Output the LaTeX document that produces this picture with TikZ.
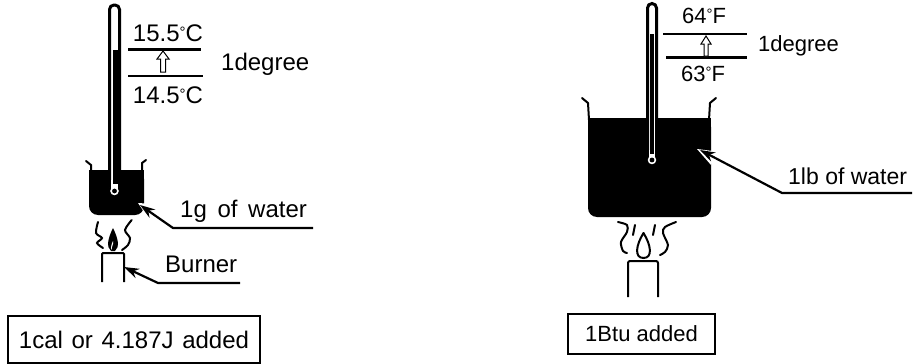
\documentclass[tikz,border=0pt]{standalone}
\usepackage{fontspec}
\setmainfont{Liberation Sans}
\usetikzlibrary{arrows.meta,positioning}
\newcommand{\dg}{\raisebox{4pt}{\fontsize{15}{15}\selectfont °}}

\begin{document}
\begin{tikzpicture}[x=1pt,y=-1pt,>={Stealth[length=15pt,width=10pt]},font=\fontsize{24}{26}\selectfont,
  thermo/.style={draw,line width=3pt,fill=white,rounded corners=4.5pt},
  glass/.style={line width=2pt,line cap=round},
  water/.style={fill=black,rounded corners=9pt},
  level/.style={line width=2.2pt},
  hollow/.style={draw,line width=1pt,fill=white},
  lead/.style={line width=2.2pt},
  smoke/.style={line width=2pt,line cap=round},
  lbl/.style={inner sep=0pt,anchor=center},
  smalltxt/.style={font=\fontsize{22}{24}\selectfont},
  notebox/.style={draw,line width=2pt,inner sep=0pt,anchor=north west}]
\useasboundingbox (0,0) rectangle (913,364);
% left: one gram
\draw[glass] (86,161) -- (91,165) -- (91,172);
\draw[glass] (146,160) -- (142,163) -- (142,172);
\fill[water] (89,170) -- (89,215) -- (144,215) -- (144,170) -- cycle;
\fill (89,170) rectangle (144,180);
\draw[thermo] (109.5,187) -- (109.5,5) -- (119.5,5) -- (119.5,187);
\draw[line width=2pt,fill=white] (114.5,191) circle (5.5);
\fill[white] (111,180) rectangle (118,189);
\draw[line width=5pt] (115.5,50) -- (115.5,184);
\fill (114.5,191) circle (2.4);
\coordinate (lvlAa) at (128,49.5);
\coordinate (lvlAb) at (201,49.5);
\coordinate (lvlBa) at (128,76);
\coordinate (lvlBb) at (203,76);
\draw[level] (lvlAa) -- (lvlAb);
\draw[level] (lvlBa) -- (lvlBb);
\draw[hollow] (163,51) -- (169,59) -- (165.5,59) -- (165.5,72) -- (160.5,72) -- (160.5,59) -- (157,59) -- cycle;
\node[lbl] (tempA) at (168,33) {15.5\dg C};
\node[lbl] (tempB) at (168,95) {14.5\dg C};
\node[lbl,anchor=west] (degA) at (221,64) {1degree};
\node[lbl,anchor=west] (gram) at (180,211) {1g\hspace{4pt} of\hspace{4pt} water};
\node[lbl,anchor=west] (burnA) at (165,264) {Burner};
\coordinate (gramTip) at (140,205);
\coordinate (gramBend) at (173,228);
\coordinate (gramEnd) at (313,228);
\fill[white] (138,203) -- (146,203.5) -- (144,212) -- cycle;
\draw[lead,->] (gramEnd) -- (gramBend) -- (gramTip);
\coordinate (burnTip) at (124,267);
\coordinate (burnBend) at (158,283);
\coordinate (burnEnd) at (240,283);
\draw[lead,->] (burnEnd) -- (burnBend) -- (burnTip);
\draw[line width=2pt,rounded corners=1pt] (102,282) -- (102,253) -- (124,253) -- (124,282);
\fill (113,228) .. controls (108,238) and (106,247) .. (111,251) -- (115,251) .. controls (120,247) and (118,238) .. (113,228);
\fill[white] (113,241) .. controls (111,245) and (110.5,249) .. (112,250) .. controls (111,246) and (114,245) .. (113,241);
\draw[smoke] plot[smooth] coordinates {(98,222) (96,233) (102,238) (97,243) (103,248)};
\draw[smoke] plot[smooth] coordinates {(131.7,220) (125,230) (130,238) (128,245) (122,250)};
\node[notebox,minimum width=252pt,minimum height=47pt] (noteA) at (7,315) {1cal\hspace{2pt} or\hspace{2pt} 4.187J\hspace{2pt} added};
% right: one pound
\draw[glass] (582,98) -- (588,103) -- (589,120);
\draw[glass] (716,98) -- (710,103) -- (709,120);
\fill[water] (588,118) -- (588,217) -- (711,217) -- (711,118) -- cycle;
\fill (588,118) rectangle (711,140);
\draw[thermo] (647.5,156) -- (647.5,3.5) -- (656.5,3.5) -- (656.5,156);
\draw[line width=2pt,fill=white] (652,160) circle (5.5);
\fill[white] (649,150) rectangle (655,158);
\draw[line width=4pt] (651.5,34) -- (651.5,154);
\fill (652,160) circle (2.4);
\coordinate (lvlCa) at (663,34);
\coordinate (lvlCb) at (747,34);
\coordinate (lvlDa) at (666,57.5);
\coordinate (lvlDb) at (747,57.5);
\draw[level] (lvlCa) -- (lvlCb);
\draw[level] (lvlDa) -- (lvlDb);
\draw[hollow] (706,36) -- (711,44) -- (708,44) -- (708,56) -- (704,56) -- (704,44) -- (701,44) -- cycle;
\node[lbl,smalltxt] (tempC) at (704,16) {64\dg F};
\node[lbl,smalltxt] (tempD) at (703,74) {63\dg F};
\node[lbl,smalltxt,anchor=west] (degB) at (758,46) {1degree};
\node[lbl,anchor=west,font=\fontsize{23}{25}\selectfont] (pound) at (788,176) {1lb of water};
\coordinate (poundTip) at (700,150);
\coordinate (poundBend) at (782,193);
\coordinate (poundEnd) at (912,193);
\fill[white] (697,149) -- (717,151.5) -- (711,165) -- cycle;
\draw[lead,->] (poundEnd) -- (poundBend) -- (poundTip);
\draw[line width=2pt,rounded corners=2pt] (628,297) -- (628,261) -- (658,261) -- (658,297);
\draw[smoke] (643.5,233) .. controls (636,245) and (634,258) .. (643.5,258) .. controls (653,258) and (651,245) .. (643.5,233);
\draw[smoke] plot[smooth] coordinates {(618,222) (627,225) (627,232) (621,242) (623,251) (627,253)};
\draw[smoke] plot[smooth] coordinates {(676,222) (665,227) (663,233) (668,245) (665,252) (660,255)};
\draw[smoke] (635,225) -- (633,235);
\draw[smoke] (655,225) -- (653,235);
\node[notebox,smalltxt,minimum width=147pt,minimum height=40pt] (noteB) at (567,313) {1Btu added};
\end{tikzpicture}
\end{document}
